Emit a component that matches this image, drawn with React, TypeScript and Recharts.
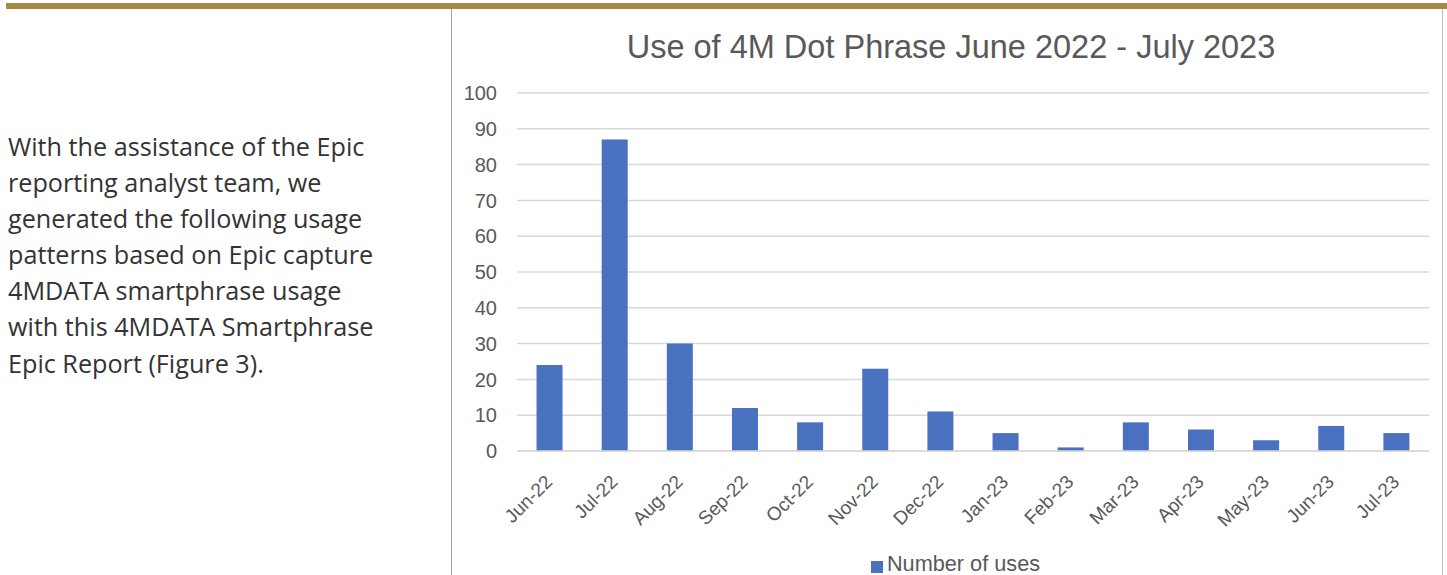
import { Bar, BarChart, CartesianGrid, Legend, XAxis, YAxis } from "recharts";

const months = [
  "Jun-22", "Jul-22", "Aug-22", "Sep-22", "Oct-22", "Nov-22", "Dec-22",
  "Jan-23", "Feb-23", "Mar-23", "Apr-23", "May-23", "Jun-23", "Jul-23",
];
const uses = [24, 87, 30, 12, 8, 23, 11, 5, 1, 8, 6, 3, 7, 5];
const yTicks = [0, 10, 20, 30, 40, 50, 60, 70, 80, 90, 100];

const data = months.map((m, i) => ({ month: m, uses: uses[i] }));

const FONT = "'Liberation Sans', Arial, sans-serif";
const TEXT = "#595959";

function MonthTick(props: any) {
  const { x, y, payload } = props;
  return (
    <g transform={`translate(${x + 4},${y + 24})`}>
      <text transform="rotate(-45)" textAnchor="end" fontSize={19} fontFamily={FONT} fill={TEXT}>
        {payload.value}
      </text>
    </g>
  );
}

export default function App() {
  return (
    <div style={{ position: "absolute", left: 0, top: 0, width: 1447, height: 575, background: "#fff", overflow: "hidden" }}>
      <div style={{ position: "absolute", left: 6, top: 3, width: 1441, height: 6, background: "#a38a45" }} />

      <div
        style={{
          position: "absolute",
          left: 8,
          top: 128,
          width: 440,
          fontFamily: "'Open Sans', 'Noto Sans', sans-serif",
          fontSize: 25.2,
          lineHeight: "36.1px",
          color: "#333",
        }}
      >
        With the assistance of the Epic<br />
        reporting analyst team, we<br />
        generated the following usage<br />
        patterns based on Epic capture<br />
        4MDATA smartphrase usage<br />
        with this 4MDATA Smartphrase<br />
        Epic Report (Figure 3).
      </div>

      <div
        style={{
          position: "absolute",
          left: 451,
          top: 9,
          width: 992,
          height: 575,
          borderLeft: "1.5px solid #a6a6a6",
          borderRight: "1px solid #bfbfbf",
          boxSizing: "border-box",
        }}
      >
        <div
          style={{
            position: "absolute",
            top: 20,
            left: 4,
            width: 990,
            textAlign: "center",
            fontFamily: FONT,
            fontSize: 32.5,
            color: TEXT,
          }}
        >
          Use of 4M Dot Phrase June 2022 - July 2023
        </div>
        <BarChart
          width={990}
          height={566}
          data={data}
          margin={{ top: 84, right: 13, left: 0, bottom: 0 }}
          barCategoryGap="30%"
        >
          <CartesianGrid vertical={false} stroke="#d9d9d9" strokeWidth={1.5} />
          <XAxis
            dataKey="month"
            tick={<MonthTick />}
            tickLine={false}
            axisLine={{ stroke: "#d9d9d9", strokeWidth: 1.5 }}
            interval={0}
            height={100}
          />
          <YAxis
            domain={[0, 100]}
            ticks={yTicks}
            tickLine={false}
            axisLine={false}
            width={65}
            tick={{ fontSize: 20, fontFamily: FONT, fill: TEXT }}
            tickMargin={14}
          />
          <Legend
            verticalAlign="bottom"
            height={24}
            iconType="square"
            iconSize={12}
            wrapperStyle={{ paddingLeft: 20 }}
            formatter={(v: string) => (
              <span style={{ color: TEXT, fontFamily: FONT, fontSize: 21.7 }}>{v}</span>
            )}
          />
          <Bar dataKey="uses" name="Number of uses" fill="#4a70c0" isAnimationActive={false} />
        </BarChart>
      </div>
    </div>
  );
}
